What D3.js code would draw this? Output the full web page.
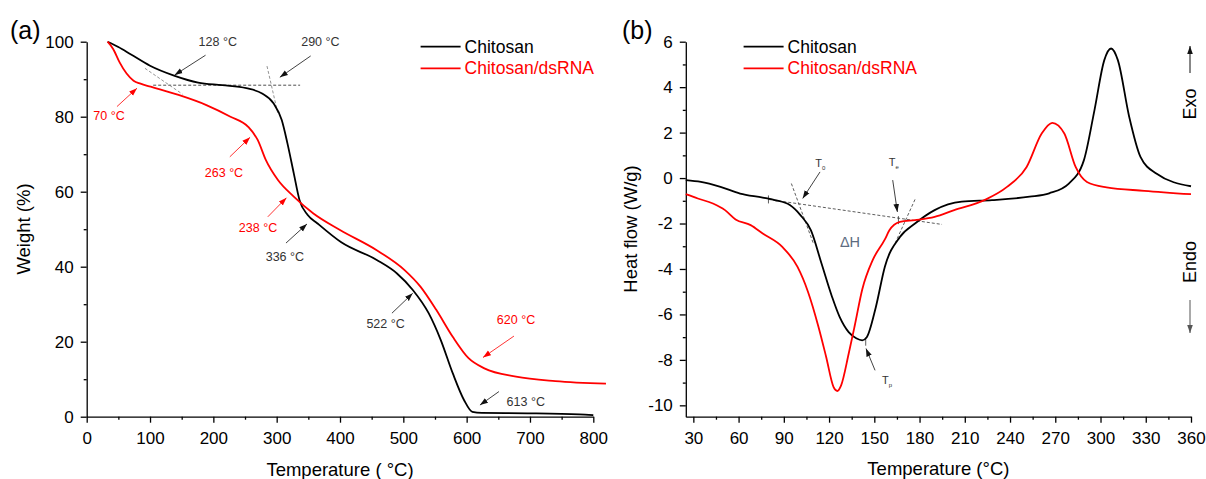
<!DOCTYPE html>
<meta charset="utf-8">
<script src="https://d3js.org/d3.v7.min.js"></script>
<style>
body { margin: 0; background: #fff; }
text { font-family: "Liberation Sans", Arial, sans-serif; }
.axis path, .axis line { stroke: #000; stroke-width: 1.3px; }
.axis text { font-size: 17px; fill: #000; font-family: "Liberation Sans", Arial, sans-serif; }
</style>
<body>
<script>
// ---- (a) TGA data ----
var tgaChitosanT = [33, 50, 70, 100, 139, 176, 214, 252, 277, 295, 308, 317, 327, 336, 349, 364, 402, 458, 490, 515, 540, 559, 578, 596, 609, 624, 696, 778, 800];
var tgaChitosanW = [100, 98.6, 96.6, 93.6, 90.9, 89.1, 88.4, 87.6, 86.2, 83.6, 79.1, 72.9, 64.9, 57.8, 53.8, 51.6, 46.5, 41.8, 38.2, 33.8, 27.6, 20.5, 11.6, 4.4, 1.3, 1.0, 0.9, 0.6, 0.4];
var tgaDsT = [33, 42, 52, 63, 74, 85, 101, 145, 189, 227, 255, 270, 283, 302, 327, 358, 400, 458, 502, 527, 552, 578, 603, 628, 678, 740, 820];
var tgaDsW = [100, 98, 94.5, 91.5, 89.6, 88.8, 88.0, 85.8, 83.1, 80, 77.3, 73.8, 68.4, 63.1, 58.7, 54.2, 49.8, 44.4, 39.1, 34.7, 28.5, 21.3, 15.6, 12.9, 10.7, 9.5, 8.8];

// ---- (b) DSC data ----
var dscChitosanT = [25, 35, 48, 61, 76, 84, 94, 101, 108, 115, 122, 127, 133, 138, 142, 145, 151, 157, 167, 177, 190, 208, 228, 253, 266, 279, 289, 296, 302.5, 307, 311.5, 319, 326.5, 337, 360];
var dscChitosanH = [-0.09, -0.17, -0.39, -0.68, -0.86, -0.97, -1.19, -1.63, -2.3, -3.76, -5.23, -6.11, -6.78, -7.05, -7.14, -7.0, -5.68, -3.9, -2.59, -2.0, -1.41, -1.04, -0.97, -0.82, -0.67, -0.24, 0.79, 2.99, 5.19, 5.7, 5.19, 2.7, 0.93, 0.2, -0.36];
var dscDsT = [25, 33, 43, 51, 58, 68, 76, 89, 99, 106, 113, 118, 123, 125.5, 128, 133, 137, 142, 149, 157, 160, 167, 177, 190, 203, 223, 238, 251, 261, 268, 276, 283.5, 291, 304, 329, 360];
var dscDsH = [-0.71, -0.9, -1.12, -1.41, -1.82, -2.07, -2.44, -3.03, -3.9, -5.0, -6.55, -7.85, -9.2, -9.37, -9.12, -7.73, -6.5, -4.9, -3.6, -2.7, -2.3, -1.93, -1.85, -1.71, -1.41, -0.97, -0.39, 0.49, 1.96, 2.43, 1.96, 0.49, -0.17, -0.41, -0.56, -0.71];

var seriesNames = ["Chitosan", "Chitosan/dsRNA"];
var seriesColors = ["#000000", "#ff0000"];

// annotations (data units): label pos, arrow from -> to
var annA = [
  {t: "128 °C", c: "#333", lx: 207, ly: 100, x1: 187.7, y1: 96.4, x2: 138.8, y2: 91.1},
  {t: "290 °C", c: "#333", lx: 369, ly: 100, x1: 353.7, y1: 96.2, x2: 305, y2: 90.5},
  {t: "70 °C", c: "#ff0000", lx: 35.2, ly: 80.4, x1: 47.8, y1: 82.7, x2: 79.4, y2: 87.6},
  {t: "263 °C", c: "#ff0000", lx: 216.8, ly: 65, x1: 226, y1: 69.3, x2: 258, y2: 74.5},
  {t: "238 °C", c: "#ff0000", lx: 270.5, ly: 50.3, x1: 286, y1: 53.3, x2: 315.5, y2: 58.4},
  {t: "336 °C", c: "#333", lx: 313, ly: 42.8, x1: 314.7, y1: 46.3, x2: 347.9, y2: 51.4},
  {t: "522 °C", c: "#333", lx: 472, ly: 24.7, x1: 482, y1: 27.6, x2: 514.8, y2: 32.9},
  {t: "620 °C", c: "#ff0000", lx: 678, ly: 26, x1: 674.7, y1: 21.5, x2: 625.8, y2: 15.8},
  {t: "613 °C", c: "#333", lx: 693.4, ly: 4, x1: 651, y1: 6.7, x2: 621, y2: 3.1}
];
var dashA = [[105, 88.4, 337, 88.4], [92, 92.9, 151.3, 86], [284.7, 93.5, 301.8, 80.9]];

var annB = [
  {t: "T", s: "0", lx: 112.9, ly: 0.64, x1: 114, y1: 0.27, x2: 102.5, y2: -0.9},
  {t: "T", s: "e", lx: 161.6, ly: 0.71, x1: 162.2, y1: -0.09, x2: 165.3, y2: -1.49},
  {t: "T", s: "p", lx: 157.1, ly: -8.87, x1: 150.5, y1: -8.46, x2: 144.5, y2: -7.5}
];
var dashB = [[79.8, -0.94, 194.9, -2.04], [95, -0.24, 109.6, -2.88], [177, -0.94, 163.7, -2.88]];
var tickMarksB = [[79.8, -0.94], [166, -1.85], [144.3, -7.2]];

var W = 1206, H = 479;
var svg = d3.select("body").append("svg").attr("width", W).attr("height", H);

var defs = svg.append("defs");
function marker(id, color) {
  defs.append("marker").attr("id", id)
    .attr("viewBox", "0 0 10 10").attr("refX", 10).attr("refY", 5)
    .attr("markerUnits", "userSpaceOnUse")
    .attr("markerWidth", 8).attr("markerHeight", 8).attr("orient", "auto")
    .append("path").attr("d", "M0,1.5L10,5L0,8.5z").attr("fill", color);
}
marker("arrK", "#111");
marker("arrR", "#ff0000");
marker("arrG", "#555");

function drawAxes(x, y, xt, xm, yt, ym) {
  var y0 = y.range()[0], x0 = x.range()[0];
  svg.append("g").attr("class", "axis").attr("transform", "translate(0," + y0 + ")")
    .call(d3.axisBottom(x).tickValues(xt).tickSize(6).tickSizeOuter(0).tickPadding(9).tickFormat(function(d) { return String(d); }));
  svg.append("g").attr("class", "axis").attr("transform", "translate(0," + y0 + ")")
    .call(d3.axisBottom(x).tickValues(xm).tickSize(3).tickFormat(""))
    .call(function(g) { g.select(".domain").remove(); });
  svg.append("g").attr("class", "axis").attr("transform", "translate(" + x0 + ",0)")
    .call(d3.axisLeft(y).tickValues(yt).tickSize(6).tickSizeOuter(0).tickPadding(7).tickFormat(function(d) { return String(d); }));
  svg.append("g").attr("class", "axis").attr("transform", "translate(" + x0 + ",0)")
    .call(d3.axisLeft(y).tickValues(ym).tickSize(3).tickFormat(""))
    .call(function(g) { g.select(".domain").remove(); });
}

function drawSeries(x, y, xs, ys, color) {
  var line = d3.line().x(function(d) { return x(d[0]); }).y(function(d) { return y(d[1]); }).curve(d3.curveMonotoneX);
  svg.append("path").datum(d3.zip(xs, ys))
    .attr("d", line).attr("fill", "none").attr("stroke", color).attr("stroke-width", 1.8);
}

function drawLegend(lx, ly) {
  seriesNames.forEach(function(n, i) {
    var yy = ly + i * 21.6;
    svg.append("line").attr("x1", lx).attr("x2", lx + 40).attr("y1", yy).attr("y2", yy)
      .attr("stroke", seriesColors[i]).attr("stroke-width", 1.8);
    svg.append("text").attr("x", lx + 44).attr("y", yy).attr("dy", "0.35em")
      .attr("font-size", 17.5).attr("fill", seriesColors[i]).text(n);
  });
}

function dashed(x, y, arr, color) {
  arr.forEach(function(d) {
    svg.append("line").attr("x1", x(d[0])).attr("y1", y(d[1])).attr("x2", x(d[2])).attr("y2", y(d[3]))
      .attr("stroke", color).attr("stroke-width", 0.8).attr("stroke-dasharray", "3,2");
  });
}

// ================= (a) =================
var xA = d3.scaleLinear().domain([0, 800]).range([86.7, 593.3]);
var yA = d3.scaleLinear().domain([0, 100]).range([416.7, 41.7]);

drawAxes(xA, yA, d3.range(0, 801, 100), d3.range(50, 800, 100), d3.range(0, 101, 20), d3.range(10, 100, 20));
dashed(xA, yA, dashA.slice(0, 1), "#222");
dashed(xA, yA, dashA.slice(1), "#777");
drawSeries(xA, yA, tgaChitosanT, tgaChitosanW, seriesColors[0]);
drawSeries(xA, yA, tgaDsT, tgaDsW, seriesColors[1]);

annA.forEach(function(a) {
  var red = a.c === "#ff0000";
  svg.append("line").attr("x1", xA(a.x1)).attr("y1", yA(a.y1)).attr("x2", xA(a.x2)).attr("y2", yA(a.y2))
    .attr("stroke", red ? "#ff0000" : "#111").attr("stroke-width", 0.8)
    .attr("marker-end", red ? "url(#arrR)" : "url(#arrK)");
  svg.append("text").attr("x", xA(a.lx)).attr("y", yA(a.ly)).attr("dy", "0.35em")
    .attr("text-anchor", "middle").attr("font-size", 12.5).attr("fill", a.c).text(a.t);
});

svg.append("text").attr("x", 10).attr("y", 39).attr("font-size", 25).text("(a)");
svg.append("text").attr("transform", "translate(30,229) rotate(-90)").attr("text-anchor", "middle")
  .attr("font-size", 18.5).text("Weight (%)");
svg.append("text").attr("x", (xA.range()[0] + xA.range()[1]) / 2).attr("y", 476).attr("text-anchor", "middle")
  .attr("font-size", 18.5).text("Temperature ( °C)");
drawLegend(420.6, 46.7);

// ================= (b) =================
var xB = d3.scaleLinear().domain([25, 360]).range([685.8, 1191]);
var yB = d3.scaleLinear().domain([-10.5, 6]).range([416.7, 41.7]);

drawAxes(xB, yB, d3.range(30, 361, 30), d3.range(45, 360, 30), d3.range(-10, 7, 2), d3.range(-9, 6, 2));
dashed(xB, yB, dashB, "#333");
tickMarksB.forEach(function(d) {
  svg.append("line").attr("x1", xB(d[0])).attr("x2", xB(d[0])).attr("y1", yB(d[1]) - 4).attr("y2", yB(d[1]) + 4)
    .attr("stroke", "#333").attr("stroke-width", 0.8);
});
drawSeries(xB, yB, dscChitosanT, dscChitosanH, seriesColors[0]);
drawSeries(xB, yB, dscDsT, dscDsH, seriesColors[1]);

annB.forEach(function(a) {
  svg.append("line").attr("x1", xB(a.x1)).attr("y1", yB(a.y1)).attr("x2", xB(a.x2)).attr("y2", yB(a.y2))
    .attr("stroke", "#111").attr("stroke-width", 0.8).attr("marker-end", "url(#arrK)");
  var t = svg.append("text").attr("x", xB(a.lx) - 3).attr("y", yB(a.ly)).attr("dy", "0.35em")
    .attr("font-size", 11).attr("fill", "#333").text(a.t);
  t.append("tspan").attr("font-size", 6).attr("dy", 3).text(a.s);
});
svg.append("text").attr("x", xB(133.9)).attr("y", yB(-2.81)).attr("dy", "0.35em").attr("text-anchor", "middle")
  .attr("font-size", 14.5).attr("fill", "#5c6b80").text("ΔH");

svg.append("text").attr("x", 622).attr("y", 39).attr("font-size", 25).text("(b)");
svg.append("text").attr("transform", "translate(637,229) rotate(-90)").attr("text-anchor", "middle")
  .attr("font-size", 18.5).text("Heat flow (W/g)");
svg.append("text").attr("x", (xB.range()[0] + xB.range()[1]) / 2).attr("y", 475).attr("text-anchor", "middle")
  .attr("font-size", 18.5).text("Temperature (°C)");
drawLegend(743.6, 46.7);

// Exo / Endo
svg.append("text").attr("transform", "translate(1196,104) rotate(-90)").attr("text-anchor", "middle")
  .attr("font-size", 18).text("Exo");
svg.append("line").attr("x1", 1190).attr("x2", 1190).attr("y1", 73).attr("y2", 46)
  .attr("stroke", "#111").attr("stroke-width", 1).attr("marker-end", "url(#arrK)");
svg.append("text").attr("transform", "translate(1196,262) rotate(-90)").attr("text-anchor", "middle")
  .attr("font-size", 18).text("Endo");
svg.append("line").attr("x1", 1190).attr("x2", 1190).attr("y1", 300).attr("y2", 333)
  .attr("stroke", "#555").attr("stroke-width", 1).attr("marker-end", "url(#arrG)");
</script>
</body>
